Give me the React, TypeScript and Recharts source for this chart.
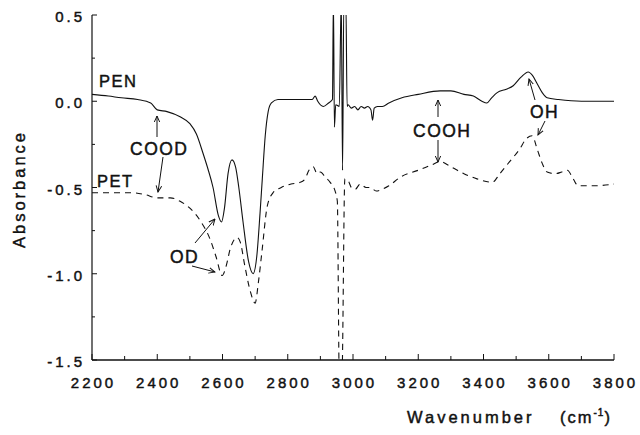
import React from 'react';
import { LineChart, Line, XAxis, YAxis } from 'recharts';

// PEN (solid) spectrum
const penWavenumbers = [
  2200, 2250, 2290, 2340, 2380, 2400, 2430, 2470, 2500, 2520, 2540, 2555, 2571, 2587, 2597, 2606,
  2617, 2629, 2640, 2650, 2663, 2680, 2694, 2705, 2715, 2722, 2731, 2740, 2750, 2770, 2800, 2850,
  2875, 2884, 2892, 2909, 2925, 2937, 2940, 2943, 2947, 2958, 2964, 2968, 2972, 2978, 2982, 2985,
  2995, 3005, 3015, 3025, 3035, 3045, 3055, 3060, 3065, 3075, 3090, 3110, 3150, 3200, 3267, 3300,
  3340, 3369, 3395, 3410, 3425, 3442, 3470, 3491, 3515, 3537, 3550, 3565, 3580, 3595, 3630, 3700,
  3800,
];
const penAbsorbance = [
  0.04, 0.03, 0.02, 0.01, -0.01, -0.05, -0.06, -0.09, -0.13, -0.19, -0.3, -0.39, -0.5, -0.66, -0.7, -0.62,
  -0.42, -0.34, -0.38, -0.5, -0.7, -0.93, -1.0, -0.9, -0.65, -0.45, -0.2, -0.06, -0.01, 0.01, 0.01, 0.01,
  0.01, 0.03, 0.0, -0.03, -0.01, 0.01, 0.6, -0.15, -0.02, -0.03, 0.6, -0.4, 0.6, 0.6, -0.03, -0.02,
  -0.04, -0.03, -0.05, -0.03, -0.04, -0.03, -0.05, -0.11, -0.04, -0.03, -0.03, -0.01, 0.02, 0.04, 0.06, 0.06,
  0.04, 0.03, 0.0, -0.01, 0.02, 0.05, 0.07, 0.09, 0.14, 0.17, 0.15, 0.1, 0.05, 0.02, 0.01, 0.0,
  0.0,
];

// PET (dashed) spectrum
const petWavenumbers = [
  2200, 2260, 2317, 2360, 2400, 2440, 2470, 2500, 2531, 2562, 2580, 2599, 2612, 2623, 2645, 2655,
  2668, 2685, 2700, 2710, 2721, 2737, 2755, 2780, 2810, 2838, 2853, 2865, 2878, 2890, 2900, 2915,
  2930, 2945, 2952, 2958, 2966, 2975, 2985, 2995, 3007, 3022, 3040, 3053, 3071, 3090, 3110, 3145,
  3200, 3240, 3267, 3300, 3340, 3380, 3427, 3450, 3480, 3510, 3530, 3549, 3565, 3580, 3595, 3620,
  3640, 3657, 3675, 3690, 3740, 3800,
];
const petAbsorbance = [
  -0.53, -0.53, -0.53, -0.54, -0.56, -0.56, -0.58, -0.62, -0.69, -0.8, -0.9, -1.01, -0.95, -0.86, -0.79, -0.82,
  -0.95, -1.1, -1.17, -1.05, -0.87, -0.61, -0.53, -0.5, -0.48, -0.47, -0.45, -0.4, -0.38, -0.42, -0.41, -0.44,
  -0.47, -0.52, -0.58, -1.6, -1.6, -0.45, -0.46, -0.5, -0.51, -0.48, -0.5, -0.5, -0.52, -0.51, -0.49, -0.44,
  -0.4, -0.37, -0.35, -0.38, -0.42, -0.45, -0.47, -0.42, -0.35, -0.28, -0.22, -0.2, -0.28, -0.36, -0.41, -0.42,
  -0.41, -0.4, -0.45, -0.49, -0.49, -0.48,
];

const xTicks = [2200, 2300, 2400, 2500, 2600, 2700, 2800, 2900, 3000, 3100, 3200, 3300, 3400, 3500, 3600, 3700, 3800];
const yTicks = [-1.5, -1.25, -1.0, -0.75, -0.5, -0.25, 0.0, 0.25, 0.5];

const penData = penWavenumbers.map((w, i) => ({ w, a: penAbsorbance[i] }));
const petData = petWavenumbers.map((w, i) => ({ w, a: petAbsorbance[i] }));

const INK = '#111';
const FONT = '"Liberation Sans", Arial, Helvetica, sans-serif';
// scanned print looks a little heavier than plain regular weight
const heavy = { stroke: INK, strokeWidth: 0.45 };

const XTick = (props: any) => {
  const { x, y, payload } = props;
  const v = payload.value;
  const major = v % 200 === 0;
  return (
    <g>
      <line x1={x} x2={x} y1={y} y2={y - (major ? 6 : 4)} stroke={INK} />
      {major && (
        <text x={x + 1.5} y={y + 28} textAnchor="middle" fontFamily={FONT} fontSize={15} letterSpacing={3} fill={INK} {...heavy}>
          {v}
        </text>
      )}
    </g>
  );
};

const YTick = (props: any) => {
  const { x, y, payload } = props;
  const v = payload.value;
  const major = Math.abs(v * 2 - Math.round(v * 2)) < 1e-6;
  return (
    <g>
      <line x1={x} x2={x + (major ? 5 : 3)} y1={y} y2={y} stroke={INK} />
      {major && (
        <text x={x - 7} y={y + 7} textAnchor="end" fontFamily={FONT} fontSize={15} letterSpacing={3} fill={INK} {...heavy}>
          {v.toFixed(1)}
        </text>
      )}
    </g>
  );
};

// annotation arrows [x1, y1, x2, y2], head at the second point
const arrows = [
  [157, 137, 157, 116],
  [163, 157, 158, 192],
  [195, 243, 215, 219],
  [192, 266, 215, 272],
  [438, 117, 438, 100],
  [438, 140, 438, 162],
  [535, 100, 529, 79],
  [545, 121, 538, 135],
];

const labels = [
  { text: 'PEN', x: 99, y: 87, size: 16.5 },
  { text: 'PET', x: 97, y: 187, size: 16.5 },
  { text: 'COOD', x: 130, y: 155, size: 17.5 },
  { text: 'OD', x: 170, y: 263, size: 17.5 },
  { text: 'COOH', x: 413, y: 137, size: 17.5 },
  { text: 'OH', x: 530, y: 118, size: 17.5 },
];

export default function App() {
  return (
    <div style={{ position: 'absolute', left: 0, top: 0, width: 640, height: 435 }}>
      <LineChart width={640} height={435} margin={{ top: 15, right: 26, left: 0, bottom: 0 }}>
        <XAxis
          dataKey="w"
          type="number"
          domain={[2200, 3800]}
          ticks={xTicks}
          interval={0}
          height={75}
          tickSize={0}
          tickMargin={0}
          tickLine={false}
          tick={<XTick />}
          axisLine={{ stroke: INK, strokeWidth: 1.3 }}
          allowDataOverflow
        />
        <XAxis
          xAxisId="top"
          orientation="top"
          type="number"
          domain={[2200, 3800]}
          height={0}
          tick={false}
          tickLine={false}
          axisLine={{ stroke: INK, strokeWidth: 1.2 }}
        />
        <YAxis
          type="number"
          domain={[-1.5, 0.5]}
          ticks={yTicks}
          interval={0}
          width={92}
          tickSize={0}
          tickMargin={0}
          tickLine={false}
          tick={<YTick />}
          axisLine={{ stroke: INK, strokeWidth: 1.2 }}
          allowDataOverflow
        />
        <YAxis
          yAxisId="right"
          orientation="right"
          type="number"
          domain={[-1.5, 0.5]}
          width={0}
          tick={false}
          tickLine={false}
          axisLine={{ stroke: INK, strokeWidth: 1 }}
        />
        <Line
          data={penData}
          dataKey="a"
          type="monotone"
          stroke={INK}
          strokeWidth={1.1}
          dot={false}
          activeDot={false}
          isAnimationActive={false}
        />
        <Line
          data={petData}
          dataKey="a"
          type="monotone"
          stroke={INK}
          strokeWidth={1.1}
          strokeDasharray="6 5"
          dot={false}
          activeDot={false}
          isAnimationActive={false}
        />
      </LineChart>
      <svg
        width={640}
        height={435}
        style={{ position: 'absolute', left: 0, top: 0, pointerEvents: 'none' }}
      >
        <defs>
          <marker
            id="head"
            viewBox="0 0 10 10"
            refX="9"
            refY="5"
            markerWidth="7"
            markerHeight="7"
            markerUnits="userSpaceOnUse"
            orient="auto"
          >
            <path d="M0,1 L9,5 L0,9" fill="none" stroke={INK} strokeWidth={1.4} />
          </marker>
        </defs>
        {arrows.map(([x1, y1, x2, y2], i) => (
          <line key={i} x1={x1} y1={y1} x2={x2} y2={y2} stroke={INK} strokeWidth={1} markerEnd="url(#head)" />
        ))}
        {labels.map((l) => (
          <text key={l.text} x={l.x} y={l.y} fontFamily={FONT} fontSize={l.size} letterSpacing={1.5} fill={INK} {...heavy}>
            {l.text}
          </text>
        ))}
        <text
          transform="translate(25 189) rotate(-90)"
          textAnchor="middle"
          fontFamily={FONT}
          fontSize={16.5}
          letterSpacing={3}
          fill={INK}
          {...heavy}
        >
          Absorbance
        </text>
        <text x={407} y={423} fontFamily={FONT} fontSize={16.5} letterSpacing={3} fill={INK} {...heavy}>
          Wavenumber
        </text>
        <text x={560} y={423} fontFamily={FONT} fontSize={16.5} letterSpacing={2} fill={INK} {...heavy}>
          (cm
          <tspan dy={-7} fontSize={10} letterSpacing={1}>-1</tspan>
          <tspan dy={7}>)</tspan>
        </text>
      </svg>
    </div>
  );
}
